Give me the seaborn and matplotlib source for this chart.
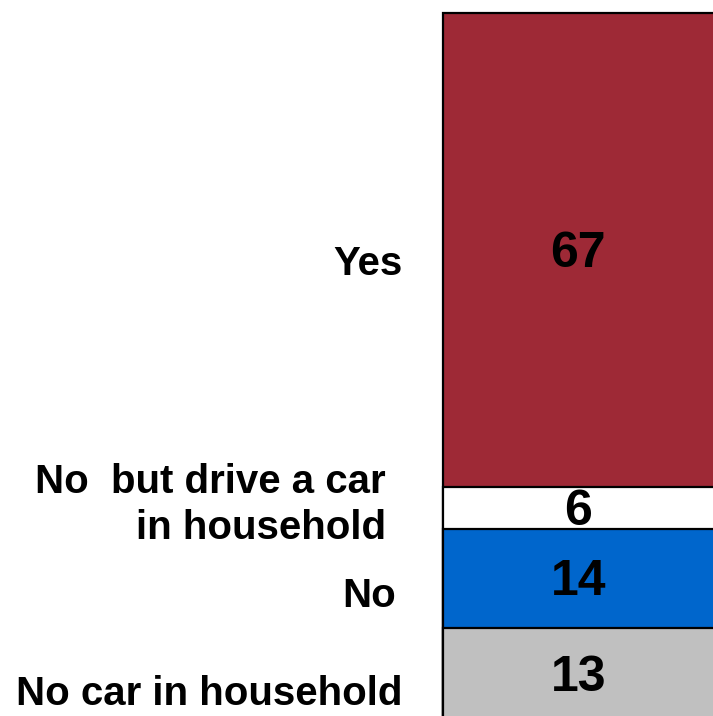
import matplotlib
matplotlib.use("Agg")
import matplotlib.pyplot as plt
import seaborn as sns
import pandas as pd
import numpy as np

# Data (bottom to top of the stacked bar)
categories = ["No car in household", "No", "No  but drive a car\nin household", "Yes"]
values = [13, 14, 6, 67]
colors = ["#C0C0C0", "#0066CC", "#FFFFFF", "#9E2936"]

sns.set_theme(style="white")
plt.rcParams['font.family'] = ['Liberation Sans', 'DejaVu Sans']

W, H = 713, 716
fig = plt.figure(figsize=(W / 100, H / 100), dpi=100)
fig.patch.set_facecolor("white")

# Axes: bar from x=443px to ~716px, y from 13px (top=100) to 720px (bottom=0)
left_px, right_px = 443, 716
top_px, bot_px = 13, 720
ax = fig.add_axes([left_px / W, (H - bot_px) / H, (right_px - left_px) / W, (bot_px - top_px) / H])

cum = np.cumsum(values)
# Draw cumulative bars from the tallest down so they stack visually
for i in range(len(values) - 1, -1, -1):
    df = pd.DataFrame({"grp": ["all"], "val": [cum[i]]})
    sns.barplot(data=df, x="grp", y="val", color=colors[i], saturation=1,
                width=1.0, edgecolor="black", linewidth=1.6, ax=ax)

for p in ax.patches:
    p.set_clip_on(False)

ax.set_xlim(-0.5, 0.5)
ax.set_ylim(0, 100)
ax.axis("off")

# Value labels centered in each segment
bottoms = np.concatenate([[0], cum[:-1]])
for b, v in zip(bottoms, values):
    ax.text(0.0 - 0.005, b + v / 2 - 0.55, f"{v}", ha="center", va="center",
            fontsize=36, fontweight="bold", color="black")

# Category labels on the left (positions in figure pixels)
label_pos = {
    "Yes": (403, 264),
    "No  but drive a car\nin household": (386, 505),
    "No": (396, 596),
    "No car in household": (403, 694),
}
for cat in categories:
    x_px, y_px = label_pos[cat]
    fig.text(x_px / W, 1 - y_px / H, cat, ha="right", va="center",
             multialignment="right", fontsize=29, fontweight="bold",
             color="black", linespacing=1.25)

fig.savefig("out.png", dpi=100, facecolor="white")
